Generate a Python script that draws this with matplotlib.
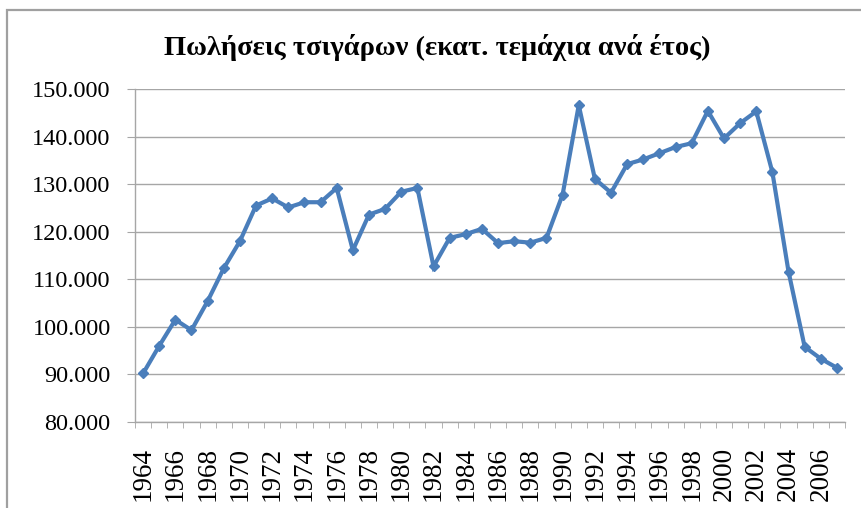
#!/usr/bin/env python3

import numpy as np
import matplotlib
matplotlib.use('Agg')
import matplotlib.pyplot as plt
from matplotlib.patches import Rectangle
from matplotlib.ticker import FuncFormatter

# Sales of cigarettes (millions of pieces per year)
years = list(range(1964, 2008))
sales = [90200, 96000, 101500, 99300, 105400, 112300, 118000, 125500, 127000, 125100,
         126200, 126200, 129200, 116100, 123600, 124800, 128400, 129200, 112700, 118700,
         119500, 120600, 117600, 118000, 117700, 118700, 127800, 146600, 131100, 128200,
         134200, 135200, 136500, 137800, 138600, 145400, 139600, 142800, 145300, 132500,
         111600, 95800, 93300, 91400]
title = 'Πωλήσεις τσιγάρων (εκατ. τεμάχια ανά έτος)'

line_c = '#4A7EBB'
grid_c = '#A6A6A6'
serif = ['Liberation Serif', 'DejaVu Serif']


def thousands(v, pos):
    return '{:,.0f}'.format(v).replace(',', '.')


def main():
    W, H = 861, 508
    fig = plt.figure(figsize=(W/100, H/100), dpi=100)

    # Chart frame (right and bottom run off the picture)
    fig.patches.append(Rectangle((7/W, -0.1), 1.2, 1 - 10/H + 0.1, transform=fig.transFigure,
                                 fill=False, ec='#A0A0A0', lw=1.6, zorder=0))

    x0, x1, y0, y1 = 135, 845, 89, 422
    ax = fig.add_axes([x0/W, 1 - y1/H, (x1-x0)/W, (y1-y0)/H])
    x = np.arange(len(years))
    ax.plot(x, sales, color=line_c, lw=3, marker='D', ms=5, mec=line_c, mfc=line_c,
            solid_joinstyle='miter', zorder=3, clip_on=False)

    ax.set_ylim(80000, 150000)
    ax.set_yticks(np.arange(80000, 150001, 10000))
    ax.yaxis.set_major_formatter(FuncFormatter(thousands))
    ax.set_xlim(-0.5, len(years) - 0.5)
    ax.grid(axis='y', color=grid_c, lw=1)
    ax.set_axisbelow(True)

    # Labels on every other year, category boundaries as tick marks
    ax.set_xticks(x[::2], labels=[str(y) for y in years[::2]])
    ax.set_xticks(np.arange(-0.5, len(years)), minor=True)
    ax.tick_params(axis='x', which='major', length=0, pad=18, labelrotation=90)
    ax.tick_params(axis='x', which='minor', direction='out', length=4, color=grid_c)
    ax.tick_params(axis='y', direction='out', length=6, color=grid_c, pad=11.5)

    for lab in ax.get_xticklabels():
        lab.set_family(serif)
        lab.set_fontsize(19.5)
    for lab in ax.get_yticklabels():
        lab.set_family(serif)
        lab.set_fontsize(17.5)

    for s in ['top', 'right']:
        ax.spines[s].set_visible(False)
    for s in ['left', 'bottom']:
        ax.spines[s].set_color(grid_c)
        ax.spines[s].set_linewidth(1)

    fig.text(437/W, 1 - 47/H, title, ha='center', va='center', family=serif,
             fontsize=20.5, fontweight='bold')

    fig.savefig('out.png', dpi=100)


if (__name__ == '__main__'):
    main()
